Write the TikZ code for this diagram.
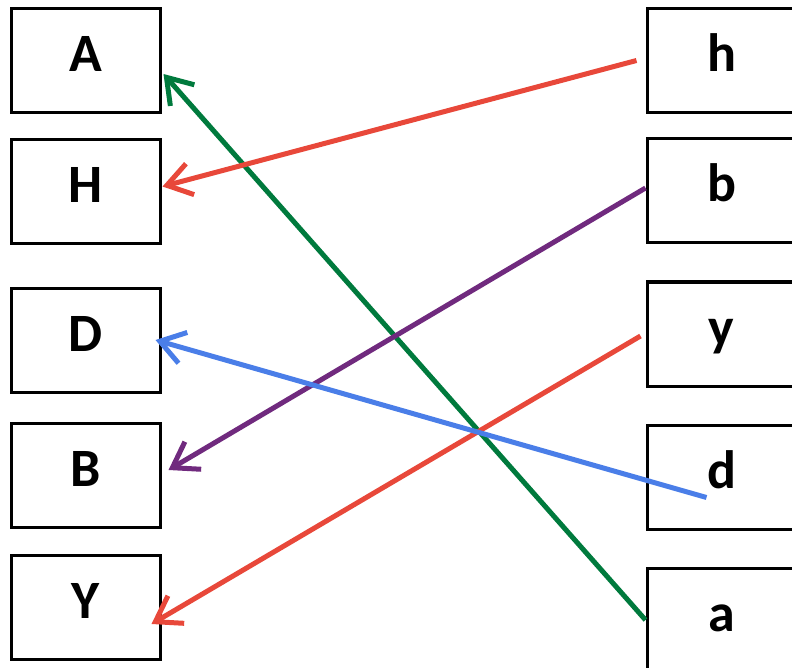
\documentclass[tikz,border=0pt]{standalone}
\usepackage{fontspec}
\setmainfont{Carlito}
\usetikzlibrary{arrows.meta}

\definecolor{lgreen}{RGB}{0,122,61}
\definecolor{lred}{RGB}{232,72,58}
\definecolor{lpurple}{RGB}{112,42,126}
\definecolor{lblue}{RGB}{74,126,232}

\begin{document}
\begin{tikzpicture}[x = 1pt, y = -1pt, font = {\fontsize{54pt}{60pt}\selectfont\bfseries},
	box/.style = {draw, line width = 3pt, minimum width = 149pt, minimum height = 104pt, inner sep = 0pt, text height = 35pt, text depth = 13pt},
	link/.style = {line width = 5pt, -{Straight Barb[length = 24pt, width = 32pt, line width = 5pt]}}]
\clip (0,0) rectangle (792,668);

% left column
\node[box] (A) at (85.5, 61) {A};
\node[box] (H) at (85.5, 191.5) {H};
\node[box] (D) at (85.5, 340) {D};
\node[box] (B) at (85.5, 475) {B};
\node[box] (Y) at (85.5, 607) {Y};

% right column
\node[box] (h) at (721.5, 60.5) {h};
\node[box] (b) at (721.5, 191) {b};
\node[box] (y) at (721.5, 334) {y};
\node[box] (d) at (721.5, 477.5) {d};
\node[box] (a) at (721.5, 620) {a};

\draw[link, lgreen] (a.west) -- ([xshift = 2pt, yshift = -13pt]A.east);
\draw[link, lred] ([xshift = -9pt]h.west) -- ([xshift = 1pt, yshift = 5pt]H.east);
\draw[link, lpurple] ([yshift = 3pt]b.west) -- ([xshift = 7pt, yshift = 5pt]B.east);
\draw[link, lred] ([xshift = -5pt, yshift = -2pt]y.west) -- ([xshift = -10pt, yshift = -17pt]Y.east);
\draw[link, lblue] ([xshift = -15pt, yshift = -20pt]d.center) -- ([xshift = -6pt]D.east);
\end{tikzpicture}
\end{document}
